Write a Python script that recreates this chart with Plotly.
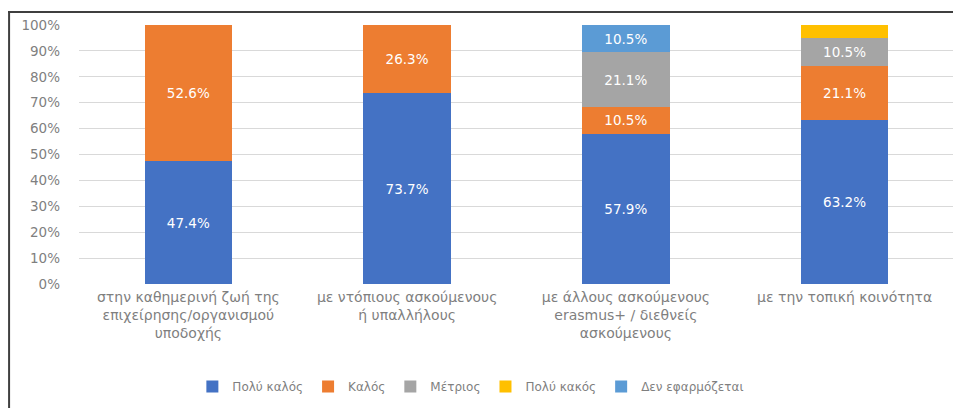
import plotly.graph_objects as go

categories = [
    "στην καθημερινή ζωή της<br>επιχείρησης/οργανισμού<br>υποδοχής",
    "με ντόπιους ασκούμενους<br>ή υπαλλήλους",
    "με άλλους ασκούμενους<br>erasmus+ / διεθνείς<br>ασκούμενους",
    "με την τοπική κοινότητα",
]
series_names = ["Πολύ καλός", "Καλός", "Μέτριος", "Πολύ κακός", "Δεν εφαρμόζεται"]
poly_kalos = [47.4, 73.7, 57.9, 63.2]
kalos = [52.6, 26.3, 10.5, 21.1]
metrios = [0, 0, 21.1, 10.5]
poly_kakos = [0, 0, 0, 5.3]
den_efarmozetai = [0, 0, 10.5, 0]
y_ticks = [0, 10, 20, 30, 40, 50, 60, 70, 80, 90, 100]
y_tick_labels = ["0%", "10%", "20%", "30%", "40%", "50%", "60%", "70%", "80%", "90%", "100%"]

values = [poly_kalos, kalos, metrios, poly_kakos, den_efarmozetai]
colors = ["#4472C4", "#ED7D31", "#A5A5A5", "#FFC000", "#5B9BD5"]
show_labels = [True, True, True, False, True]

FONT = "DejaVu Sans"
GRAY = "#7F7F7F"

fig = go.Figure()
x_idx = list(range(len(categories)))
for name, vals, col, lab in zip(series_names, values, colors, show_labels):
    texts = [f"{v:.1f}%" if (lab and v > 0) else "" for v in vals]
    fig.add_trace(go.Bar(
        x=x_idx, y=vals, name=name, marker=dict(color=col, line=dict(width=0)),
        text=texts, texttemplate="%{text}", textposition="inside",
        insidetextanchor="middle", textangle=0, constraintext="none",
        textfont=dict(color="white", size=13.5, family=FONT),
        hoverinfo="skip",
    ))

# page body has an 8px margin; figure is sized to the visible area
OFF = 8
W, H = 961 - OFF, 408 - OFF
L, R, T, B = 78.5 - OFF, W - (954.5 - OFF), 25 - OFF, H - (284 - OFF)
pw, ph = W - L - R, H - T - B

def px_x(p):
    return (p - OFF - L) / pw

def px_y(p):
    return (H - B - (p - OFF)) / ph

fig.update_layout(
    width=W, height=H, barmode="stack", bargap=0.6,
    margin=dict(l=L, r=R, t=T, b=B, autoexpand=False),
    paper_bgcolor="white", plot_bgcolor="white",
    font=dict(family=FONT, size=12, color=GRAY),
    xaxis=dict(
        tickmode="array", tickvals=x_idx, ticktext=categories,
        range=[-0.5, 3.5], showgrid=False, zeroline=False, showline=False,
        ticks="", ticklabelstandoff=3,
        tickfont=dict(size=14, color=GRAY, family=FONT), fixedrange=True,
    ),
    yaxis=dict(
        range=[0, 100], tickmode="array", tickvals=y_ticks, ticktext=y_tick_labels,
        showgrid=True, gridcolor="#D9D9D9", gridwidth=1, zeroline=False,
        showline=False, ticks="", ticklabelstandoff=18,
        tickfont=dict(size=13.5, color=GRAY, family=FONT), fixedrange=True,
    ),
    legend=dict(
        orientation="h", x=px_x(192), xanchor="left", y=px_y(401), yanchor="bottom",
        font=dict(size=12, color=GRAY, family=FONT), itemwidth=30, traceorder="normal",
        tracegroupgap=0,
    ),
    showlegend=True,
    shapes=[
        dict(type="line", xref="paper", yref="paper", x0=px_x(7), x1=px_x(975),
             y0=px_y(12), y1=px_y(12), line=dict(color="#3F3F3F", width=2)),
        dict(type="line", xref="paper", yref="paper", x0=px_x(8.5), x1=px_x(8.5),
             y0=px_y(12), y1=px_y(420), line=dict(color="#3F3F3F", width=2)),
    ],
)

fig.write_html("out.html")
